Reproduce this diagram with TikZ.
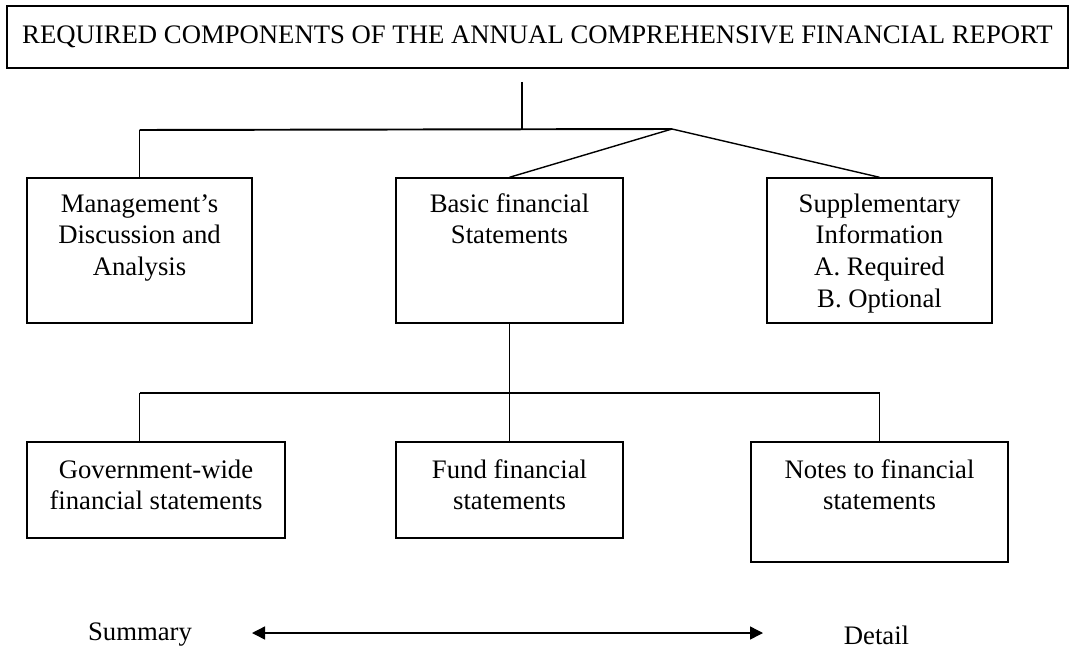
\documentclass[tikz,border=0pt]{standalone}
\usepackage{fontspec}
\setmainfont{Liberation Serif}
\usetikzlibrary{arrows.meta,shadows,calc}

% text at the top of a box
\newcommand{\toplines}[4]{\parbox[c][#2][t]{#1}{\centering\rule{0pt}{#3}#4}}

\begin{document}
\begin{tikzpicture}[
    font=\fontsize{15.2}{18.2}\selectfont,
    compbox/.style={draw, line width=0.8pt, fill=white, inner sep=0pt,
      drop shadow={shadow xshift=0.6pt, shadow yshift=-0.6pt, opacity=1, fill=black}},
    link/.style={line width=0.8pt},
    bus/.style={line width=1.1pt}
  ]
  \useasboundingbox[fill=white] (0,0) rectangle (21.4,-13.08);

  \node [compbox, minimum width=21.22cm, minimum height=1.24cm] (report) at (10.75,-0.74)
    {REQUIRED COMPONENTS OF THE ANNUAL COMPREHENSIVE FINANCIAL REPORT};

  \node [compbox] (mda) at (2.79,-5.01)
    {\toplines{4.5cm}{2.9cm}{0.68cm}{Management's\\Discussion and\\Analysis}};
  \node [compbox] (basic) at (10.19,-5.01)
    {\toplines{4.54cm}{2.9cm}{0.68cm}{Basic financial\\Statements}};
  \node [compbox] (supp) at (17.59,-5.01)
    {\toplines{4.5cm}{2.9cm}{0.68cm}{Supplementary\\Information\\A. Required\\B. Optional}};

  \node [compbox] (govwide) at (3.12,-9.8)
    {\toplines{5.16cm}{1.92cm}{0.72cm}{Government-wide\\financial statements}};
  \node [compbox] (fund) at (10.19,-9.8)
    {\toplines{4.54cm}{1.92cm}{0.72cm}{Fund financial\\statements}};
  \node [compbox] (notes) at (17.59,-10.04)
    {\toplines{5.14cm}{2.4cm}{0.72cm}{Notes to financial\\statements}};

  % upper tree
  \coordinate (topstem) at (10.44,-1.64);
  \coordinate (topbus) at (10.44,-2.6);
  \coordinate (fork) at (13.44,-2.58);
  \draw [link] (topstem) -- (topbus);
  \draw [bus] (mda.north |- topbus) -- (fork);
  \draw [link] (mda.north |- topbus) -- (mda.north);
  \draw [link] (fork) -- (basic.north);
  \draw [link] (fork) -- (supp.north);

  % lower tree
  \coordinate (lowbus) at (10.19,-7.86);
  \draw [link] (basic.south) -- (lowbus);
  \draw [bus] (mda.south |- lowbus) -- (notes.north |- lowbus);
  \draw [link] (mda.south |- lowbus) -- (govwide.north -| mda.south);
  \draw [link] (lowbus) -- (fund.north);
  \draw [link] (notes.north |- lowbus) -- (notes.north);

  % summary to detail
  \node (summary) at (2.8,-12.7) {Summary};
  \node (detail) at (17.53,-12.7) {Detail};
  \coordinate (sumtip) at (5.04,-12.66);
  \coordinate (dettip) at (15.26,-12.66);
  \draw [link, {Triangle[length=2.6mm,width=2.6mm]}-{Triangle[length=2.6mm,width=2.6mm]}] (sumtip) -- (dettip);
\end{tikzpicture}
\end{document}
